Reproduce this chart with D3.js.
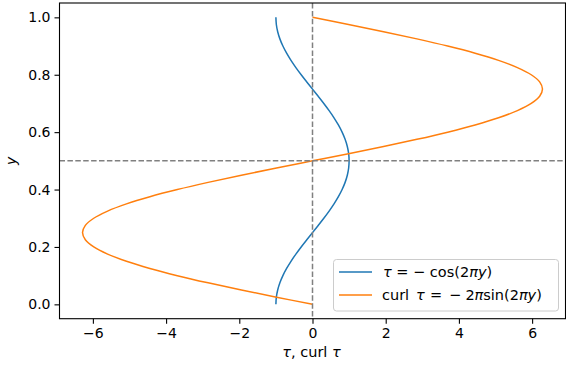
<!DOCTYPE html>
<html>
<head>
<meta charset="utf-8">
<script src="https://cdn.jsdelivr.net/npm/d3@7"></script>
<style>
  body { margin: 0; background: #fff; }
  svg text { font-family: "DejaVu Sans", sans-serif; fill: #000; }
</style>
</head>
<body>
<div id="chart"></div>
<script>
// y samples (0 to 1)
const ySamples = [0, 0.025, 0.05, 0.075, 0.1, 0.125, 0.15, 0.175, 0.2, 0.225, 0.25,
  0.275, 0.3, 0.325, 0.35, 0.375, 0.4, 0.425, 0.45, 0.475, 0.5,
  0.525, 0.55, 0.575, 0.6, 0.625, 0.65, 0.675, 0.7, 0.725, 0.75,
  0.775, 0.8, 0.825, 0.85, 0.875, 0.9, 0.925, 0.95, 0.975, 1];

// tau values
const tauValues = [-1, -0.988, -0.951, -0.891, -0.809, -0.707, -0.588, -0.454, -0.309, -0.156, 0,
  0.156, 0.309, 0.454, 0.588, 0.707, 0.809, 0.891, 0.951, 0.988, 1,
  0.988, 0.951, 0.891, 0.809, 0.707, 0.588, 0.454, 0.309, 0.156, 0,
  -0.156, -0.309, -0.454, -0.588, -0.707, -0.809, -0.891, -0.951, -0.988, -1];

// curl tau values
const curlValues = [0, -0.983, -1.942, -2.852, -3.693, -4.443, -5.083, -5.598, -5.976, -6.206, -6.283,
  -6.206, -5.976, -5.598, -5.083, -4.443, -3.693, -2.852, -1.942, -0.983, 0,
  0.983, 1.942, 2.852, 3.693, 4.443, 5.083, 5.598, 5.976, 6.206, 6.283,
  6.206, 5.976, 5.598, 5.083, 4.443, 3.693, 2.852, 1.942, 0.983, 0];

const xTicks = [-6, -4, -2, 0, 2, 4, 6];
const yTicks = [0, 0.2, 0.4, 0.6, 0.8, 1.0];

(function() {
  const W = 566, H = 370;
  const pl = 59.5, pr = 565.5, pt = 3, pb = 318.7;

  const svg = d3.select("#chart").append("svg")
    .attr("width", W)
    .attr("height", H);

  const x = d3.scaleLinear().domain([-6.912, 6.912]).range([pl, pr]);
  const y = d3.scaleLinear().domain([-0.05, 1.05]).range([pb, pt]);

  // courbes
  const tauData = ySamples.map((v, i) => ({ y: v, x: tauValues[i] }));
  const curlData = ySamples.map((v, i) => ({ y: v, x: curlValues[i] }));

  const line = d3.line()
    .x(d => x(d.x))
    .y(d => y(d.y))
    .curve(d3.curveCatmullRom);

  svg.append("path").datum(tauData)
    .attr("d", line)
    .attr("fill", "none")
    .attr("stroke", "#1f77b4")
    .attr("stroke-width", 1.5);

  svg.append("path").datum(curlData)
    .attr("d", line)
    .attr("fill", "none")
    .attr("stroke", "#ff7f0e")
    .attr("stroke-width", 1.5);

  // lignes pointillées
  svg.append("line")
    .attr("x1", pl).attr("x2", pr)
    .attr("y1", y(0.5)).attr("y2", y(0.5))
    .attr("stroke", "#808080").attr("stroke-width", 1.5)
    .attr("stroke-dasharray", "5.5,2.4");

  svg.append("line")
    .attr("x1", x(0)).attr("x2", x(0))
    .attr("y1", pt).attr("y2", pb)
    .attr("stroke", "#808080").attr("stroke-width", 1.5)
    .attr("stroke-dasharray", "5.5,2.4");

  // axes
  const fmtX = d => d < 0 ? "\u2212" + Math.abs(d) : String(d);

  const xAxis = svg.append("g")
    .attr("transform", `translate(0,${pb})`)
    .call(d3.axisBottom(x).tickValues(xTicks).tickFormat(fmtX).tickSize(5).tickPadding(4));

  const yAxis = svg.append("g")
    .attr("transform", `translate(${pl},0)`)
    .call(d3.axisLeft(y).tickValues(yTicks).tickFormat(d3.format(".1f")).tickSize(5).tickPadding(4));

  [xAxis, yAxis].forEach(g => {
    g.select(".domain").remove();
    g.selectAll(".tick line").attr("stroke", "#000").attr("stroke-width", 1.1);
    g.selectAll(".tick text").style("font-size", "14px").style("font-family", "DejaVu Sans");
  });

  // cadre
  svg.append("rect")
    .attr("x", pl).attr("y", pt)
    .attr("width", pr - pl).attr("height", pb - pt)
    .attr("fill", "none")
    .attr("stroke", "#000")
    .attr("stroke-width", 1.1);

  // titres des axes
  const xl = svg.append("text")
    .attr("x", x(0) - 1).attr("y", 357)
    .attr("text-anchor", "middle")
    .style("font-size", "14.5px")
    .attr("xml:space", "preserve");
  xl.append("tspan").style("font-style", "italic").text("τ");
  xl.append("tspan").text(", curl ");
  xl.append("tspan").style("font-style", "italic").text("τ");

  svg.append("text")
    .attr("transform", `translate(16,${y(0.5)}) rotate(-90)`)
    .attr("text-anchor", "middle")
    .style("font-size", "14px")
    .style("font-style", "italic")
    .text("y");

  // légende
  const legend = svg.append("g");
  legend.append("rect")
    .attr("x", 333.5).attr("y", 259.5)
    .attr("width", 225).attr("height", 51.5)
    .attr("rx", 3)
    .attr("fill", "#fff").attr("fill-opacity", 0.8)
    .attr("stroke", "#ccc").attr("stroke-width", 1);

  // [texte, italique, position x (null = à la suite)]
  const entries = [
    { color: "#1f77b4", parts: [["τ", true, 383], [" = \u2212 cos(2", false, null],
      ["πy", true, null], [")", false, null]] },
    { color: "#ff7f0e", parts: [["curl", false, 382], ["τ", true, 416], ["=", false, 430],
      ["\u2212", false, 449], ["2", false, 465.5], ["π", true, 474.5], ["sin(2", false, null],
      ["πy", true, null], [")", false, null]] }
  ];

  entries.forEach((e, i) => {
    const ly = 272 + i * 23;
    legend.append("line")
      .attr("x1", 339).attr("x2", 372)
      .attr("y1", ly).attr("y2", ly)
      .attr("stroke", e.color).attr("stroke-width", 1.5);
    const t = legend.append("text")
      .attr("y", ly + 5)
      .attr("xml:space", "preserve")
      .style("font-size", "14.5px");
    e.parts.forEach(p => {
      const s = t.append("tspan").style("font-style", p[1] ? "italic" : "normal").text(p[0]);
      if (p[2] !== null) s.attr("x", p[2]);
    });
  });
})();
</script>
</body>
</html>
